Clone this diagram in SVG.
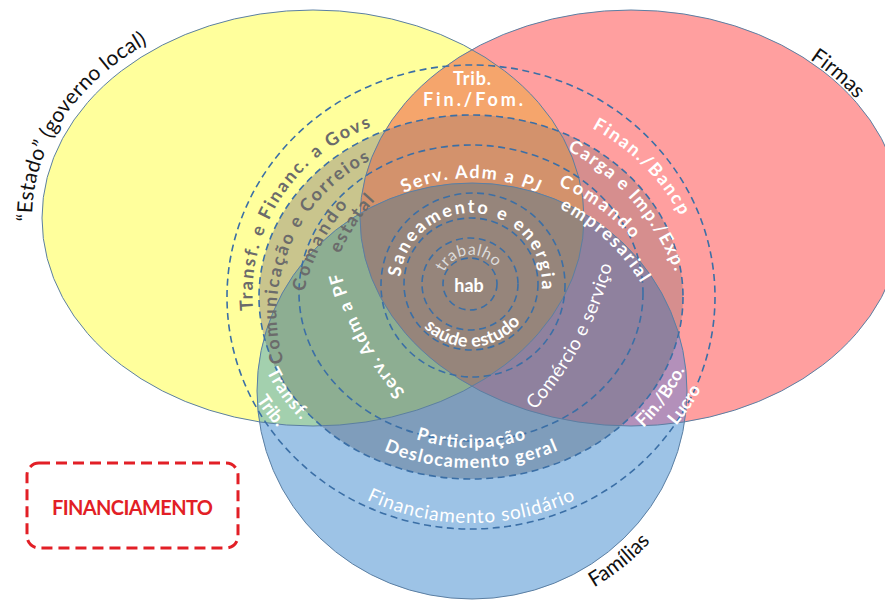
<svg xmlns="http://www.w3.org/2000/svg" width="885" height="601" viewBox="0 0 885 601">
<defs>
<style>
text{font-family:Lato,'Open Sans','Liberation Sans',sans-serif}
.w{fill:#fff;font-weight:700;font-size:18px}
.wn{fill:#fff;font-weight:400;font-size:19px}
.g{fill:#6b6b6b;font-weight:700;font-size:18px}
.k{fill:#111;font-size:21px}
.ring{fill:none;stroke:#3b6fa6;stroke-width:1.6;stroke-dasharray:7 4.5}
.edge{fill:none;stroke:#5b7fa3;stroke-width:1}
</style>
<clipPath id="cY"><ellipse cx="313" cy="218" rx="271" ry="208"/></clipPath>
<clipPath id="cR"><ellipse cx="631" cy="218" rx="271" ry="208"/></clipPath>
<clipPath id="cK"><ellipse cx="471" cy="297" rx="212" ry="182"/></clipPath>
<path id="pEstado" d="M59.8 311.7A281 216 0 0 1 237 10"/>
<path id="pFirmas" d="M724.4 20.7A273 210 0 0 1 899.9 181.5"/>
<path id="pFamilias" d="M473.2 620A237 229 0 0 0 705.6 429.6"/>
<path id="pGovs" d="M272.2 377A178.7 178.7 0 0 1 439.8 116.8"/>
<path id="pComun" d="M310.7 415.7A171.3 171.3 0 0 1 427.6 143"/>
<path id="pComL" d="M304 383A204 204 0 0 1 421 151"/>
<path id="pEstL" d="M322.3 341.4A200 200 0 0 1 448.6 149.8"/>
<path id="pPJ" d="M354.1 235.5A135 115 0 0 1 587.9 235.5"/>
<path id="pBancp" d="M455.8 98.4A229 199 0 0 1 690.9 352.5"/>
<path id="pCarga" d="M411.5 127.5A232.6 232.6 0 0 1 678.5 429.2"/>
<path id="pComR" d="M466.7 171A200 200 0 0 1 675.5 321"/>
<path id="pEmp" d="M461.6 187.6A200 200 0 0 1 670.1 378.7"/>
<path id="pSan" d="M412.8 324.7A71 71 0 1 1 521.2 334.2"/>
<path id="pTrab" d="M442.1 293A30 30 0 1 1 500.9 287.4"/>
<path id="pSaude" d="M406.5 275.2A64 64 0 1 0 532.4 268.6"/>
<path id="pPF" d="M448.1 431.3A290 290 0 0 1 331.9 215.5"/>
<path id="pCom" d="M486.1 454.9A342 342 0 0 0 621.8 199.7"/>
<path id="pPart" d="M316 348.6A165 151 0 0 0 626 348.6"/>
<path id="pDesl" d="M285.9 355.5A197 171 0 0 0 656.1 355.5"/>
<path id="pFinSol" d="M266.6 410A236 226 0 0 0 675.4 410"/>
<path id="pTransf" d="M252.4 263.8A222 191 0 0 0 395.1 476.5"/>
<path id="pTrib" d="M227.4 267.6A246 211 0 0 0 395 497.7"/>
<path id="pFinBco" d="M549.7 482.6A230 197.5 0 0 0 697.5 262.7"/>
<path id="pLucro" d="M562 500.5A254 218 0 0 0 720.3 255.4"/>
</defs>

<g id="set-estado"><ellipse cx="313" cy="218" rx="271" ry="208" fill="#FFFF9C"/></g>
<g id="set-firmas"><ellipse cx="631" cy="218" rx="271" ry="208" fill="#FF9F9F"/></g>
<g id="set-familias"><ellipse cx="472" cy="391" rx="215" ry="208" fill="#9DC3E6"/></g>

<g id="overlaps">
  <g clip-path="url(#cY)">
    <ellipse cx="631" cy="218" rx="271" ry="208" fill="#F5A56C"/>
    <ellipse cx="472" cy="391" rx="215" ry="208" fill="#A3D0AE"/>
  </g>
  <g clip-path="url(#cR)"><ellipse cx="472" cy="391" rx="215" ry="208" fill="#B390BA"/></g>
</g>

<g id="core" clip-path="url(#cK)">
  <ellipse cx="313" cy="218" rx="271" ry="208" fill="#C9C58D"/>
  <ellipse cx="631" cy="218" rx="271" ry="208" fill="#D68E8E"/>
  <g clip-path="url(#cY)"><ellipse cx="631" cy="218" rx="271" ry="208" fill="#D3926C"/></g>
  <ellipse cx="472" cy="391" rx="215" ry="208" fill="#7F9DBB"/>
  <g clip-path="url(#cY)"><ellipse cx="472" cy="391" rx="215" ry="208" fill="#8DAE92"/></g>
  <g clip-path="url(#cR)"><ellipse cx="472" cy="391" rx="215" ry="208" fill="#8F819E"/></g>
  <g clip-path="url(#cY)"><g clip-path="url(#cR)"><ellipse cx="472" cy="391" rx="215" ry="208" fill="#96857B"/></g></g>
</g>

<g id="edges">
  <ellipse class="edge" cx="313" cy="218" rx="271" ry="208"/>
  <ellipse class="edge" cx="631" cy="218" rx="271" ry="208"/>
  <ellipse class="edge" cx="472" cy="391" rx="215" ry="208"/>
</g>

<g id="rings">
  <ellipse class="ring" cx="471" cy="297" rx="244" ry="232"/>
  <ellipse class="ring" cx="471" cy="297" rx="212" ry="182"/>
  <ellipse class="ring" cx="471" cy="293" rx="172" ry="148"/>
  <ellipse class="ring" cx="473" cy="285" rx="92" ry="92"/>
  <ellipse class="ring" cx="471" cy="284" rx="67" ry="66"/>
  <ellipse class="ring" cx="470" cy="284" rx="48" ry="46"/>
  <ellipse class="ring" cx="470" cy="284" rx="27" ry="26"/>
</g>

<g id="set-labels">
  <text class="k" text-anchor="middle"><textPath href="#pEstado" startOffset="50%" textLength="223">“Estado” (governo local)</textPath></text>
  <text class="k" text-anchor="middle"><textPath href="#pFirmas" startOffset="50%">Firmas</textPath></text>
  <text class="k" text-anchor="middle"><textPath href="#pFamilias" startOffset="50%">Famílias</textPath></text>
</g>

<g id="labels">
  <text class="w" x="472" y="85" font-size="17" text-anchor="middle" textLength="38">Trib.</text>
  <text class="w" x="473" y="106" font-size="17" text-anchor="middle" textLength="100">Fin./Fom.</text>
  <text class="g" text-anchor="middle"><textPath href="#pGovs" startOffset="50%" textLength="234">Transf. e Financ. a Govs</textPath></text>
  <text class="g" text-anchor="middle"><textPath href="#pComun" startOffset="50%" textLength="238">Comunicação e Correios</textPath></text>
  <text class="g" font-size="19" text-anchor="middle"><textPath href="#pComL" startOffset="50%" textLength="98">Comando</textPath></text>
  <text class="g" font-size="17" text-anchor="middle"><textPath href="#pEstL" startOffset="50%" textLength="64">estatal</textPath></text>
  <text class="w" text-anchor="middle"><textPath href="#pPJ" startOffset="50%" textLength="138">Serv. Adm a PJ</textPath></text>
  <text class="w" font-size="17" text-anchor="middle"><textPath href="#pBancp" startOffset="50%" textLength="126">Finan./Bancp</textPath></text>
  <text class="w" font-size="17" text-anchor="middle"><textPath href="#pCarga" startOffset="50%" textLength="166">Carga e Imp./Exp.</textPath></text>
  <text class="w" font-size="19" text-anchor="middle"><textPath href="#pComR" startOffset="50%" textLength="92">Comando</textPath></text>
  <text class="w" font-size="19" text-anchor="middle"><textPath href="#pEmp" startOffset="50%" textLength="112">empresarial</textPath></text>
  <text class="w" text-anchor="middle"><textPath href="#pSan" startOffset="50%" textLength="221">Saneamento e energia</textPath></text>
  <text fill="#dcdcdc" font-size="16" text-anchor="middle"><textPath href="#pTrab" startOffset="50%" textLength="62">trabalho</textPath></text>
  <text class="w" x="469" y="292" font-size="21" text-anchor="middle">hab</text>
  <text class="w" font-size="16" text-anchor="middle"><textPath href="#pSaude" startOffset="50%" textLength="110">saúde estudo</textPath></text>
  <text class="w" text-anchor="middle"><textPath href="#pPF" startOffset="50%" textLength="137">Serv. Adm a PF</textPath></text>
  <text class="wn" text-anchor="middle"><textPath href="#pCom" startOffset="50%" textLength="166">Comércio e serviço</textPath></text>
  <text class="w" font-size="19" text-anchor="middle"><textPath href="#pPart" startOffset="50%" textLength="112">Participação</textPath></text>
  <text class="w" font-size="19" text-anchor="middle"><textPath href="#pDesl" startOffset="50%" textLength="179">Deslocamento geral</textPath></text>
  <text class="wn" font-size="20" text-anchor="middle"><textPath href="#pFinSol" startOffset="50%" textLength="216">Financiamento solidário</textPath></text>
  <text class="w" font-size="17" text-anchor="middle"><textPath href="#pTransf" startOffset="50%" textLength="60">Transf.</textPath></text>
  <text class="w" font-size="17" text-anchor="middle"><textPath href="#pTrib" startOffset="50%">Trib.</textPath></text>
  <text class="w" font-size="17" text-anchor="middle"><textPath href="#pFinBco" startOffset="50%" textLength="72">Fin./Bco.</textPath></text>
  <text class="w" font-size="17" text-anchor="middle"><textPath href="#pLucro" startOffset="50%">Lucro</textPath></text>
</g>

<g id="financiamento">
  <rect x="27" y="463" width="211" height="85" rx="12" fill="#fff" stroke="#E21F26" stroke-width="3" stroke-dasharray="11 6"/>
  <text x="132.5" y="515" fill="#E21F26" font-size="20" font-weight="700" text-anchor="middle" textLength="161">FINANCIAMENTO</text>
</g>
</svg>
